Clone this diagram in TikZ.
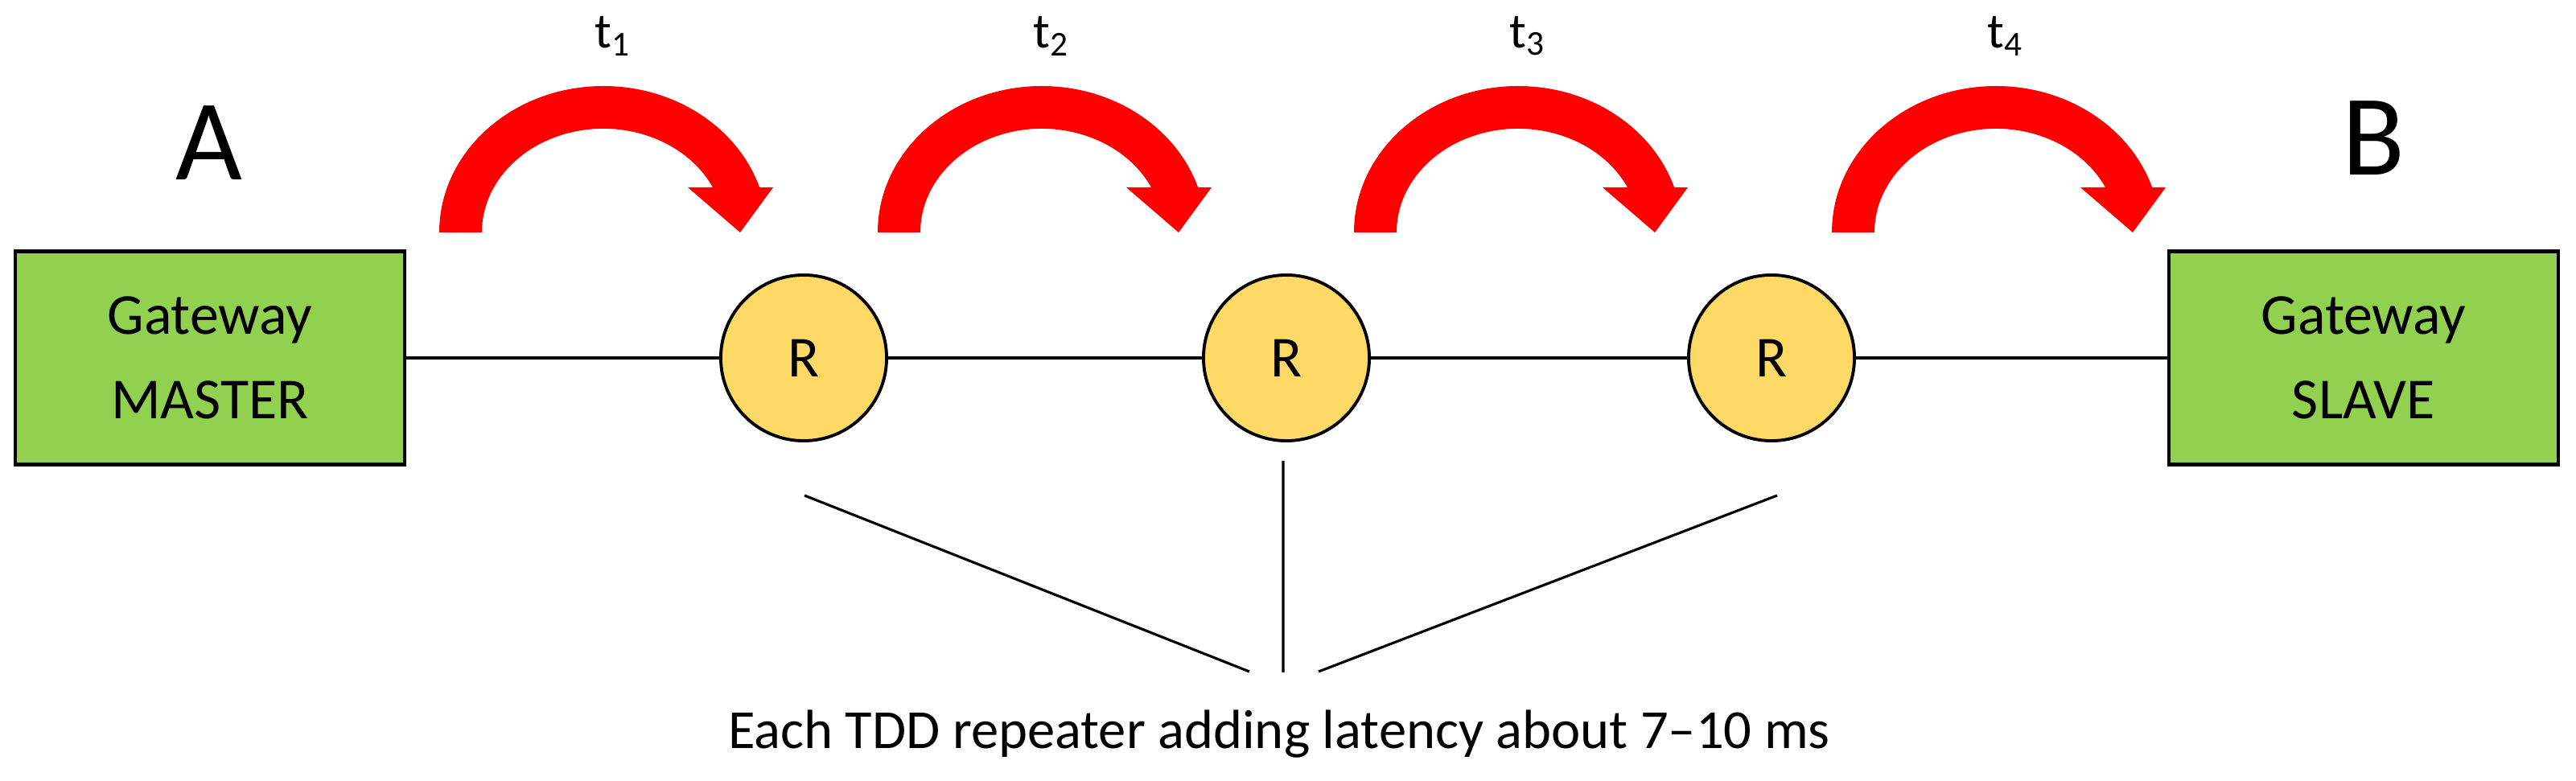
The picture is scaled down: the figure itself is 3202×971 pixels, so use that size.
\documentclass[tikz,border=0pt]{standalone}
\usepackage{fontspec}
\setmainfont{Carlito}
\definecolor{gw}{HTML}{92D050}
\definecolor{rep}{HTML}{FFD966}
\begin{document}
\begin{tikzpicture}[x=0.01cm,y=-0.01cm,
  box/.style={draw=black,line width=1.2pt,fill=gw,minimum width=4.83cm,minimum height=2.65cm,font=\fontsize{20.5}{26}\selectfont,align=center,inner sep=0pt},
  rep/.style={circle,draw=black,line width=1.1pt,fill=rep,minimum size=2.06cm,inner sep=0pt,font=\fontsize{20.5}{24}\selectfont},
  link/.style={line width=0.9pt},
  big/.style={font=\fontsize{40.7}{44}\selectfont},
  tl/.style={font=\fontsize{17.6}{20}\selectfont},
  hop/.style={fill=red,draw=none}]
\useasboundingbox (0,0) rectangle (3202,971);
\node[box] (m) at (261,445) {Gateway\\[4pt]MASTER};
\node[box] (s) at (2938,445) {Gateway\\[4pt]SLAVE};
\node[rep] (r1) at (999,445) {R};
\node[rep] (r2) at (1599,445) {R};
\node[rep] (r3) at (2202,445) {R};
\draw[link] (m) -- (r1) (r1) -- (r2) (r2) -- (r3) (r3) -- (s);
\node[big] (a) at (260,178) {A};
\node[big] (b) at (2950,172) {B};
\foreach \cx/\i in {750/1,1295/2,1887/3,2481/4}{
  \fill[hop] (\cx-204,289) arc[start angle=180,end angle=342,x radius=204,y radius=182]
    -- (\cx+211,233) -- (\cx+170,289) -- (\cx+105,233) -- (\cx+136,233)
    arc[start angle=334.3,end angle=180,x radius=151,y radius=129] -- cycle;
  \node[tl] (t\i) at (\cx+12,45) {t\textsubscript{\i}};
}
\coordinate (l1a) at (1000,616); \coordinate (l1b) at (1553,835);
\coordinate (l2a) at (1595,573); \coordinate (l2b) at (1595,836);
\coordinate (l3a) at (2209,616); \coordinate (l3b) at (1639,835);
\draw[link] (l1a) -- (l1b) (l2a) -- (l2b) (l3a) -- (l3b);
\node[font=\fontsize{19.5}{22}\selectfont] (cap) at (1590,913) {Each TDD repeater adding latency about 7–10 ms};
\end{tikzpicture}
\end{document}
